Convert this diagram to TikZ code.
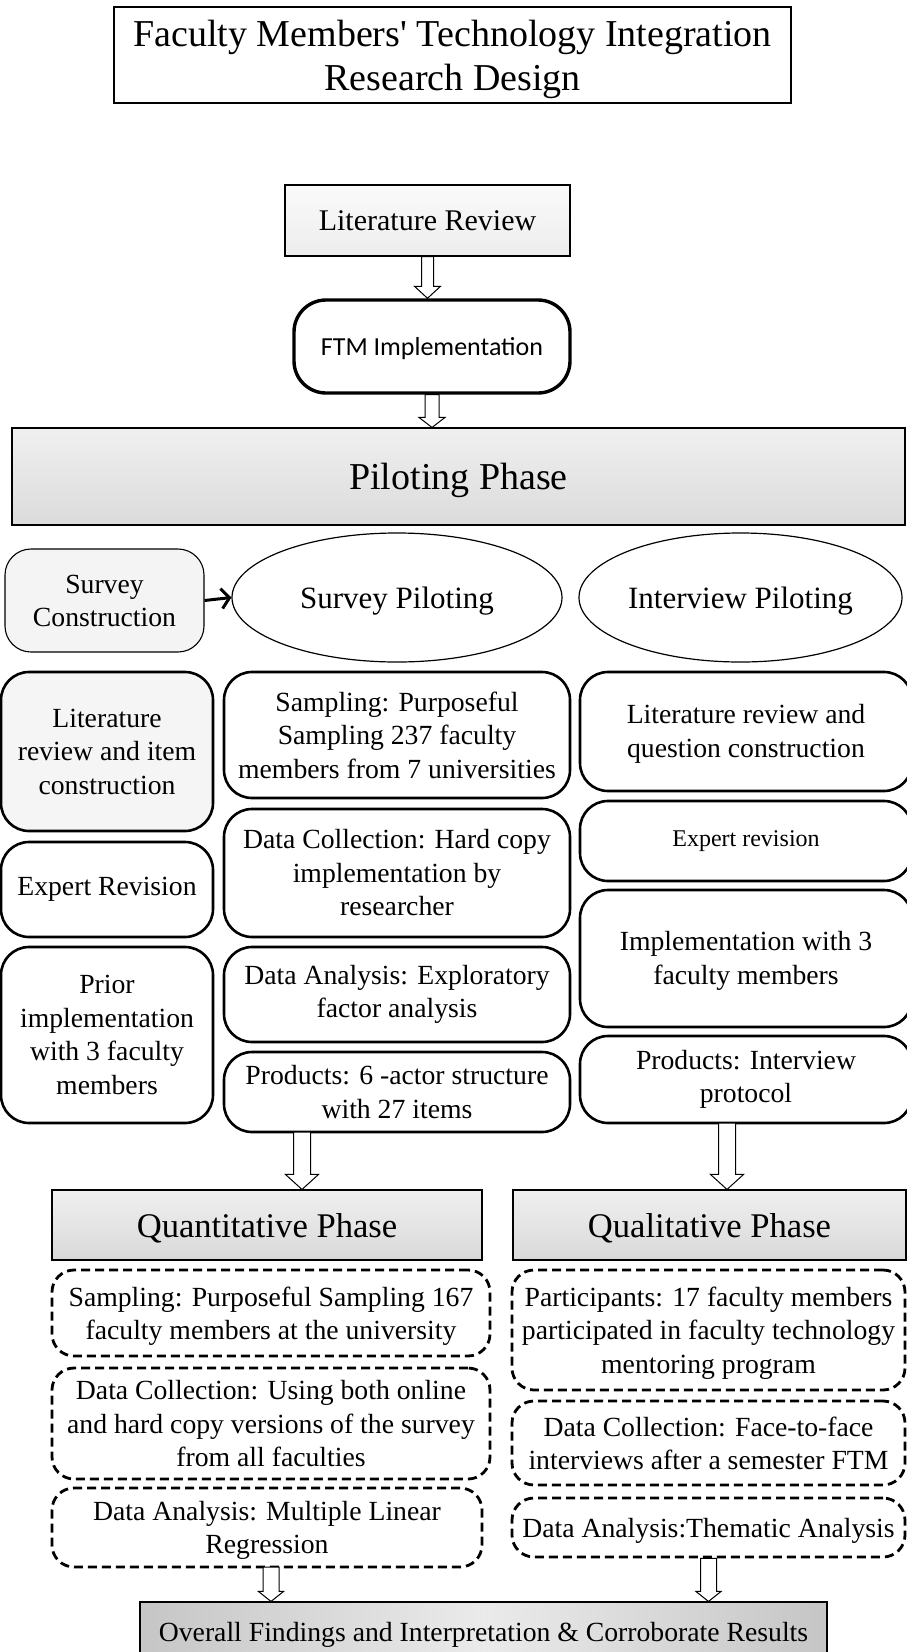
\documentclass[tikz,border=0pt]{standalone}
\usepackage{fontspec}
\setmainfont{Liberation Serif}
\newfontfamily\calib{Carlito}
\usetikzlibrary{calc,arrows.meta,shapes.geometric}

\newcommand\fs[2]{\fontsize{#1}{#2}\selectfont}

% hollow block arrow: start, end, shaft half width, head half width, head length
\newcommand\blockarrow[5]{%
  \draw[line width=1pt, fill=white] let \p1=(#1), \p2=(#2) in
    (\x1-#3pt,\y1) -- (\x1-#3pt,\y2+#5pt) -- (\x1-#4pt,\y2+#5pt) -- (\x1,\y2)
    -- (\x1+#4pt,\y2+#5pt) -- (\x1+#3pt,\y2+#5pt) -- (\x1+#3pt,\y1) -- cycle;}

\tikzset{
  rectbox/.style={draw, line width=1.1pt, inner sep=0pt, align=center},
  phasebox/.style={rectbox, top color=gray!12, bottom color=gray!30,
    font=\fs{34.6}{40}, text depth=-8pt},
  roundbox/.style={draw, line width=2.6pt, rounded corners=28pt, inner sep=0pt,
    align=center, font=\fs{27.7}{33.5}},
  dashbox/.style={draw, line width=2.8pt, dash pattern=on 9pt off 5pt,
    rounded corners=22pt, inner sep=0pt, align=center, font=\fs{27.7}{33.3},
    text depth=-14pt},
  oval/.style={ellipse, draw, line width=1.2pt, inner sep=0pt, font=\fs{31}{36},
    text depth=-4pt},
}

\begin{document}
\begin{tikzpicture}[x=1pt,y=-1pt]
\useasboundingbox (0,0) rectangle (907,1652);

% heading
\node[rectbox, minimum width=677, minimum height=96, font=\fs{38}{44}, text depth=-5pt]
  (title) at (452.5,55)
  {Faculty Members\textquotesingle\ Technology Integration\\Research Design};

% entry steps
\node[rectbox, top color=gray!4, bottom color=gray!14, minimum width=285, minimum height=71,
  font=\fs{30}{36}, text depth=-7pt] (lit) at (427.5,220.5) {Literature Review};
\node[draw, line width=3.4pt, rounded corners=32pt, inner sep=0pt, minimum width=276,
  minimum height=93, font=\calib\fs{26}{30}, text depth=1pt] (ftm) at (432,346.5)
  {FTM Implementation};
\node[rectbox, top color=gray!12, bottom color=gray!28, minimum width=893, minimum height=97,
  font=\fs{38}{44}, text depth=-11pt] (pilot) at (458.5,476.5) {Piloting Phase};

\blockarrow{lit.south}{lit.south |- ftm.north}{6}{13}{12}
\blockarrow{ftm.south}{ftm.south |- pilot.north}{7}{13}{10}

% piloting row
\node[rectbox, rounded corners=26pt, fill=gray!9, minimum width=199, minimum height=103,
  font=\fs{27.7}{33}] (sc) at (104.5,600.5) {Survey\\Construction};
\node[oval, minimum width=330, minimum height=129] (sp) at (397,597.5) {Survey Piloting};
\node[oval, minimum width=323, minimum height=129] (ip) at (740.5,597.5) {Interview Piloting};
\draw[line width=3pt, -{Straight Barb[length=8pt,width=20pt]}] (sc.east) -- (sp.west);

% survey construction column
\node[roundbox, fill=gray!8, minimum width=212, minimum height=159] (l1) at (107,751.5)
  {Literature\\review and item\\construction};
\node[roundbox, minimum width=212, minimum height=95] (l2) at (107,889.5) {Expert Revision};
\node[roundbox, minimum width=212, minimum height=176] (l3) at (107,1035)
  {Prior\\implementation\\with 3 faculty\\members};

% survey piloting column
\node[roundbox, minimum width=346, minimum height=126] (m1) at (397,735)
  {Sampling: Purposeful\\Sampling 237 faculty\\members from 7 universities};
\node[roundbox, minimum width=346, minimum height=128] (m2) at (397,873)
  {Data Collection: Hard copy\\implementation by\\researcher};
\node[roundbox, minimum width=346, minimum height=95] (m3) at (397,994.5)
  {Data Analysis: Exploratory\\factor analysis};
\node[roundbox, minimum width=346, minimum height=80] (m4) at (397,1092)
  {Products: 6 -actor structure\\with 27 items};

% interview piloting column
\node[roundbox, minimum width=332, minimum height=119, text depth=1pt] (r1) at (746,731.5)
  {Literature review and\\question construction};
\node[roundbox, minimum width=332, minimum height=80, font=\fs{24}{30}] (r2) at (746,841)
  {Expert revision};
\node[roundbox, minimum width=332, minimum height=137, text depth=1pt] (r3) at (746,958.5)
  {Implementation with 3\\faculty members};
\node[roundbox, minimum width=332, minimum height=87] (r4) at (746,1079.5)
  {Products: Interview\\protocol};

% main phases
\node[phasebox, minimum width=430, minimum height=70] (quan) at (267,1225) {Quantitative Phase};
\node[phasebox, minimum width=393, minimum height=70] (qual) at (709.5,1225) {Qualitative Phase};

\coordinate (qa) at (302,1132);
\coordinate (qb) at (727,1123);
\blockarrow{qa}{qa |- quan.north}{8.5}{16.5}{15}
\blockarrow{qb}{qb |- qual.north}{8.5}{16.5}{15}

% quantitative steps
\node[dashbox, minimum width=438, minimum height=86] (q1) at (271,1313)
  {Sampling: Purposeful Sampling 167\\faculty members at the university};
\node[dashbox, minimum width=438, minimum height=111] (q2) at (271,1423.5)
  {Data Collection: Using both online\\and hard copy versions of the survey\\from all faculties};
\node[dashbox, minimum width=430, minimum height=79] (q3) at (267,1527.5)
  {Data Analysis: Multiple Linear\\Regression};

% qualitative steps
\node[dashbox, minimum width=393, minimum height=120] (k1) at (708.5,1330)
  {Participants: 17 faculty members\\participated in faculty technology\\mentoring program};
\node[dashbox, minimum width=393, minimum height=84] (k2) at (708.5,1443)
  {Data Collection: Face-to-face\\interviews after a semester FTM};
\node[dashbox, minimum width=393, minimum height=59] (k3) at (708.5,1527.5)
  {Data Analysis:Thematic Analysis};

% synthesis
\node[rectbox, left color=gray!45, right color=gray!45, middle color=gray!16,
  minimum width=687, minimum height=60, font=\fs{27.7}{33}, text depth=-5pt]
  (final) at (483.5,1632)
  {Overall Findings and Interpretation \& Corroborate Results};

\coordinate (fa) at (271,1567);
\blockarrow{fa}{fa |- final.north}{8}{12.5}{10}
\blockarrow{k3.south}{k3.south |- final.north}{8}{12.5}{10}
\end{tikzpicture}
\end{document}
